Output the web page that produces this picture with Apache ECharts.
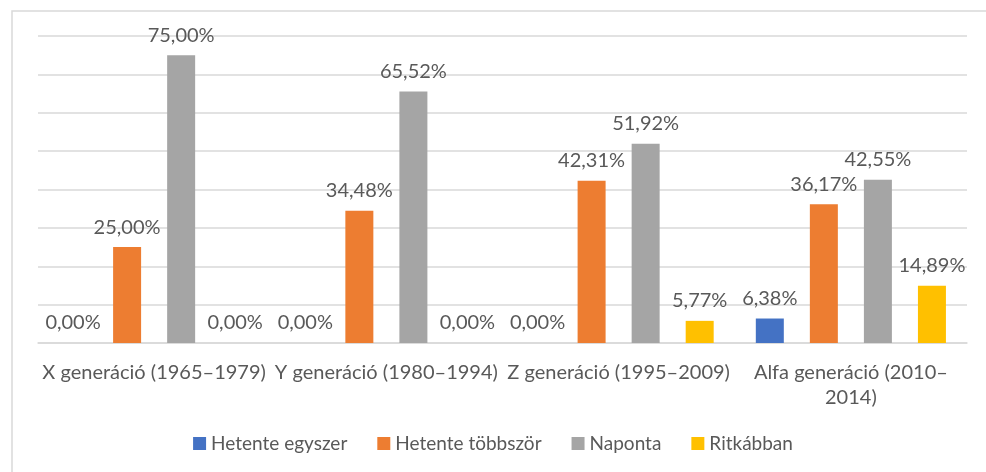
<!DOCTYPE html>
<html>
<head>
    <meta charset="UTF-8">
    <title>Generációk</title>
    <script src="https://cdn.jsdelivr.net/npm/echarts@6/dist/echarts.min.js"></script>
    <style>
        html, body { margin: 0; padding: 0; background: #fff; }
    </style>
</head>
<body>
    <div id="main" style="width: 986px;height:472px;"></div>
    <script>
        // kategóriák (a tengely felirata)
        var categories = ['X generáció (1965–1979)', 'Y generáció (1980–1994)', 'Z generáció (1995–2009)', 'Alfa generáció (2010–\n2014)'];
        var seriesNames = ['Hetente egyszer', 'Hetente többször', 'Naponta', 'Ritkábban'];
        var hetenteEgyszer = [0.00, 0.00, 0.00, 6.38];
        var hetenteTobbszor = [25.00, 34.48, 42.31, 36.17];
        var naponta = [75.00, 65.52, 51.92, 42.55];
        var ritkabban = [0.00, 0.00, 5.77, 14.89];
        var colors = ['#4472C4', '#ED7D31', '#A5A5A5', '#FFC000'];

        var textColor = '#595959';
        var fontName = 'Lato, "Open Sans", sans-serif';
        var chartDemo = echarts.init(document.getElementById('main'));

        function makeSeries(name, data, color) {
            return {
                type: 'bar',
                name: name,
                data: data,
                barWidth: 28,
                barGap: '93%',
                itemStyle: { color: color },
                label: {
                    show: true,
                    position: 'top',
                    distance: 10,
                    color: textColor,
                    fontFamily: fontName,
                    fontSize: 20,
                    formatter: function (p) {
                        return p.value.toFixed(2).replace('.', ',') + '%';
                    }
                }
            };
        }

        chartDemo.setOption({
            animation: false,
            color: colors,
            graphic: [{
                type: 'rect',
                shape: { x: 12, y: 11, width: 1000, height: 500 },
                style: { fill: 'none', stroke: '#D9D9D9', lineWidth: 1.5 },
                silent: true
            }],
            grid: { left: 38, right: 19, top: 36, bottom: 129, containLabel: false },
            legend: {
                bottom: 14,
                left: 'center',
                itemWidth: 13,
                itemHeight: 13,
                itemGap: 30,
                icon: 'rect',
                textStyle: { color: textColor, fontFamily: fontName, fontSize: 19 },
                data: seriesNames
            },
            xAxis: {
                type: 'category',
                data: categories,
                axisTick: { show: false },
                axisLine: { lineStyle: { color: '#D9D9D9', width: 1.5 } },
                axisLabel: {
                    color: textColor,
                    fontFamily: fontName,
                    fontSize: 20,
                    margin: 17,
                    lineHeight: 25,
                    interval: 0
                }
            },
            yAxis: {
                type: 'value',
                min: 0,
                max: 80,
                interval: 10,
                axisLabel: { show: false },
                axisLine: { show: false },
                axisTick: { show: false },
                splitLine: { lineStyle: { color: '#D9D9D9', width: 1.5 } }
            },
            series: [
                makeSeries(seriesNames[0], hetenteEgyszer, colors[0]),
                makeSeries(seriesNames[1], hetenteTobbszor, colors[1]),
                makeSeries(seriesNames[2], naponta, colors[2]),
                makeSeries(seriesNames[3], ritkabban, colors[3])
            ]
        });
    </script>
</body>
</html>
